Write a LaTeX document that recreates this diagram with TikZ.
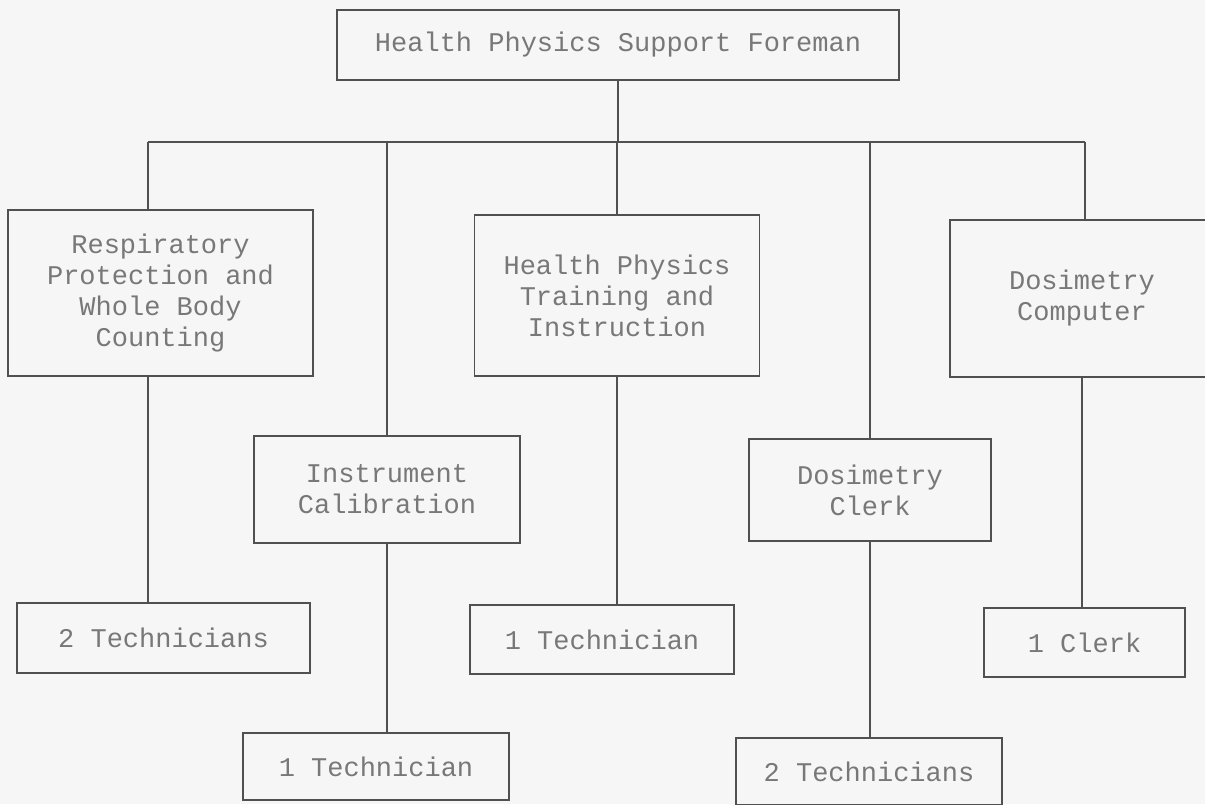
\documentclass[tikz,border=0pt]{standalone}
\usepackage{fontspec}
\setmonofont{Liberation Mono}
\usepackage{tikz}

\definecolor{paper}{RGB}{246,246,246}
\definecolor{ink}{RGB}{80,80,80}
\definecolor{typeface}{RGB}{120,120,120}

\begin{document}
\begin{tikzpicture}[x=1pt, y=-1pt,
    box/.style={draw=ink, line width=1.5pt, rectangle, align=center, text=typeface,
      font=\ttfamily\fontsize{27}{31}\selectfont, inner sep=0pt},
    link/.style={draw=ink, line width=1.2pt}]
        \fill[paper] (0,0) rectangle (1205,804);
        \useasboundingbox (0,0) rectangle (1205,804);

        % Foreman
        \node[box, minimum width=562pt, minimum height=70pt] (foreman) at (618,45) {Health Physics Support Foreman};

        % Second row
        \node[box, minimum width=305pt, minimum height=166pt] (resp) at (160.5,293) {Respiratory\\Protection and\\Whole Body\\Counting};
        \node[box, minimum width=285pt, minimum height=161pt] (hptrain) at (617,295.5) {Health Physics\\Training and\\Instruction};
        \node[box, minimum width=264pt, minimum height=157pt] (doscomp) at (1082,298.5) {Dosimetry\\Computer};

        % Third row
        \node[box, minimum width=266pt, minimum height=107pt] (instcal) at (387,489.5) {Instrument\\Calibration};
        \node[box, minimum width=242pt, minimum height=102pt] (dosclerk) at (870,490) {Dosimetry\\Clerk};

        % Staff
        \node[box, minimum width=293pt, minimum height=70pt] (techresp) at (163.5,638) {2 Technicians};
        \node[box, minimum width=264pt, minimum height=69pt] (techtrain) at (602,639.5) {1 Technician};
        \node[box, minimum width=201pt, minimum height=69pt] (clerkcomp) at (1084.5,642.5) {1 Clerk};
        \node[box, minimum width=266pt, minimum height=67pt] (techcal) at (376,766.5) {1 Technician};
        \node[box, minimum width=266pt, minimum height=67pt] (techclerk) at (869,771.5) {2 Technicians};

        % Bus under the foreman
        \coordinate (busL) at (148,142);
        \coordinate (busR) at (1085,142);
        \draw[link] (busL) -- (busR);
        \draw[link] (foreman.south) -- (foreman.south |- busL);

        \draw[link] (busL) -- (busL |- resp.north);
        \draw[link] (instcal.north |- busL) -- (instcal.north);
        \draw[link] (hptrain.north |- busL) -- (hptrain.north);
        \draw[link] (dosclerk.north |- busL) -- (dosclerk.north);
        \draw[link] (busR) -- (busR |- doscomp.north);

        % Down to the staff
        \draw[link] (busL |- resp.south) -- (busL |- techresp.north);
        \draw[link] (instcal.south) -- (instcal.south |- techcal.north);
        \draw[link] (hptrain.south) -- (hptrain.south |- techtrain.north);
        \draw[link] (dosclerk.south) -- (dosclerk.south |- techclerk.north);
        \draw[link] (doscomp.south) -- (doscomp.south |- clerkcomp.north);
    \end{tikzpicture}
\end{document}
